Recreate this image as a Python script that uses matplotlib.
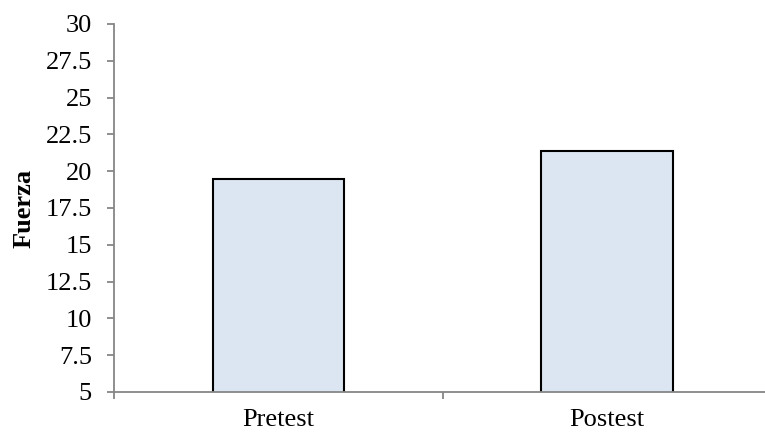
import matplotlib.pyplot as plt
from matplotlib.ticker import FixedLocator

categories = ['Pretest', 'Postest']
fuerza = [19.5, 21.4]
y_ticks = [5, 7.5, 10, 12.5, 15, 17.5, 20, 22.5, 25, 27.5, 30]
y_tick_labels = ['5', '7.5', '10', '12.5', '15', '17.5', '20', '22.5', '25', '27.5', '30']

plt.rcParams['font.family'] = ['Liberation Serif', 'DejaVu Serif']

fig = plt.figure(figsize=(7.65, 4.32), dpi=100)
ax = fig.add_axes([0.149, 0.0926, 0.859, 0.852])

x = range(len(categories))
ax.bar(x, fuerza, width=0.4, color='#dce6f2', edgecolor='black', linewidth=1.5, zorder=1)

ax.set_xlim(-0.5, 1.5)
ax.set_ylim(5, 30)
ax.set_yticks(y_ticks)
ax.set_yticklabels(y_tick_labels)
ax.set_xticks(list(x))
ax.set_xticklabels(categories)
ax.xaxis.set_minor_locator(FixedLocator([-0.5, 0.5, 1.5]))

for side in ['top', 'right']:
    ax.spines[side].set_visible(False)
for side in ['left', 'bottom']:
    ax.spines[side].set_color('#868686')
    ax.spines[side].set_linewidth(1.3)
    ax.spines[side].set_zorder(3)

ax.tick_params(axis='y', which='major', direction='out', length=5, width=1.3,
               color='#868686', labelsize=19, pad=11)
ax.tick_params(axis='x', which='major', length=0, labelsize=19, pad=12.5)
ax.tick_params(axis='x', which='minor', direction='out', length=5, width=1.3,
               color='#868686')

ax.set_ylabel('Fuerza', fontsize=19, fontweight='bold', labelpad=7)

fig.savefig('out.png', dpi=100)
